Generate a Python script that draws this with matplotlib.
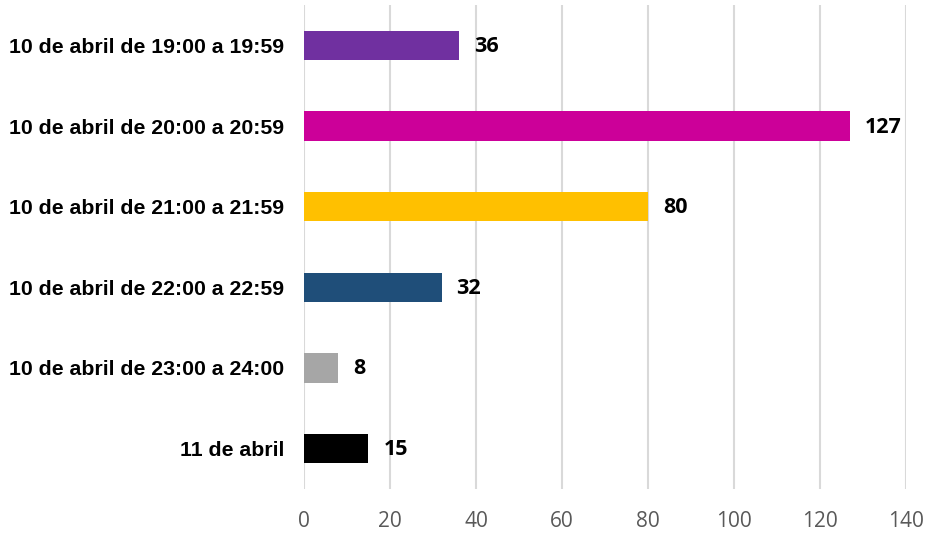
import matplotlib.pyplot as plt

categories = [
    "10 de abril de 19:00 a 19:59",
    "10 de abril de 20:00 a 20:59",
    "10 de abril de 21:00 a 21:59",
    "10 de abril de 22:00 a 22:59",
    "10 de abril de 23:00 a 24:00",
    "11 de abril",
]
values = [36, 127, 80, 32, 8, 15]
colors = ["#7030a0", "#cc0099", "#ffc000", "#1f4e79", "#a6a6a6", "#000000"]
xticks = [0, 20, 40, 60, 80, 100, 120, 140]

fig = plt.figure(figsize=(9.25, 5.33), dpi=100)
ax = fig.add_axes([0.3286, 0.0826, 0.6509, 0.908])

pos = list(range(len(categories)))
ax.barh(pos, values, height=0.36, color=colors, zorder=3)
ax.set_ylim(len(categories) - 0.5, -0.5)
ax.set_xlim(0, 140)

# value labels to the right of each bar
for p, v in zip(pos, values):
    ax.annotate(str(v), (v, p), xytext=(15, -1), textcoords="offset pixels",
                va="center", ha="left", fontsize=15.5, fontweight="bold",
                family="Open Sans", color="black")

ax.set_yticks(pos)
ax.set_yticklabels(categories, fontsize=15.3, fontweight="bold", family="Liberation Sans")
ax.set_xticks(xticks)
ax.set_xticklabels([str(t) for t in xticks], fontsize=15, color="#595959", family="Open Sans")
ax.tick_params(axis="y", length=0, pad=14.4)
ax.tick_params(axis="x", length=0, pad=16)

ax.grid(axis="x", color="#d9d9d9", linewidth=1.5, zorder=0)
for s in ax.spines.values():
    s.set_visible(False)

fig.savefig("out.png", dpi=100)
